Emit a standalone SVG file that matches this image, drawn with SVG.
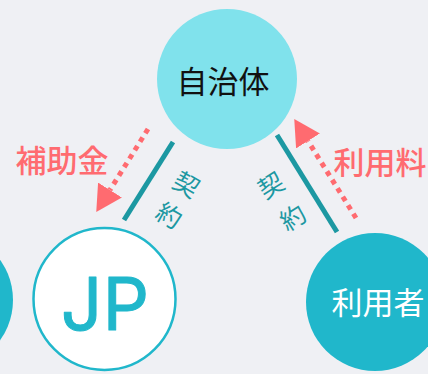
<svg xmlns="http://www.w3.org/2000/svg" width="428" height="374" viewBox="0 0 428 374">
<style>
.jp{font-family:"Noto Sans CJK JP","Noto Sans",sans-serif;}
.lbl{font-size:31px;fill:#ff6b70;font-weight:500;}
.kei{font-size:25px;fill:#1c98a2;}
.contract{stroke:#1c98a2;stroke-width:5;fill:none;}
.pay{stroke:#ff6b70;stroke-width:5;stroke-dasharray:5 5;fill:none;}
</style>
<defs>
<marker id="ah" viewBox="0 -14 26 28" markerWidth="26" markerHeight="28" refX="0" refY="0" markerUnits="userSpaceOnUse" orient="auto">
<path d="M0,-14 L26,0 L0,14 z" fill="#ff6b70"/>
</marker>
</defs>
<rect width="428" height="374" fill="#eff0f4"/>
<g id="connectors">
<line class="contract" x1="173" y1="142" x2="124" y2="220"/>
<line class="contract" x1="277" y1="135" x2="337" y2="232"/>
<line class="pay" x1="148" y1="129" x2="110" y2="190" marker-end="url(#ah)"/>
<line class="pay" x1="356" y1="218" x2="308" y2="141" marker-end="url(#ah)"/>
<text class="jp lbl" x="62" y="172" text-anchor="middle">補助金</text>
<text class="jp lbl" x="380" y="174" text-anchor="middle">利用料</text>
<text class="jp kei" text-anchor="middle" dominant-baseline="central" transform="translate(187,183) rotate(30)">契</text>
<text class="jp kei" text-anchor="middle" dominant-baseline="central" transform="translate(170,214) rotate(30)">約</text>
<text class="jp kei" text-anchor="middle" dominant-baseline="central" transform="translate(270,184) rotate(-32)">契</text>
<text class="jp kei" text-anchor="middle" dominant-baseline="central" transform="translate(292,216) rotate(-32)">約</text>
</g>
<g id="jichitai">
<circle cx="227" cy="79" r="70" fill="#80e2ec"/>
<text class="jp" x="223" y="93" font-size="31" fill="#111" text-anchor="middle">自治体</text>
</g>
<g id="left-node">
<circle cx="-56" cy="300" r="69" fill="#20b7cb"/>
</g>
<g id="jp">
<circle cx="104.5" cy="299" r="71" fill="#fff" stroke="#20b7cb" stroke-width="2.5"/>
<text x="105" y="330" font-family="Inter,'Noto Sans',sans-serif" font-size="73" fill="#20b7cb" stroke="#20b7cb" stroke-width="1" stroke-linejoin="round" text-anchor="middle">JP</text>
</g>
<g id="riyousha">
<circle cx="375" cy="302" r="69" fill="#20b7cb"/>
<text class="jp" x="378" y="314" font-size="31" fill="#fff" text-anchor="middle">利用者</text>
</g>
</svg>
